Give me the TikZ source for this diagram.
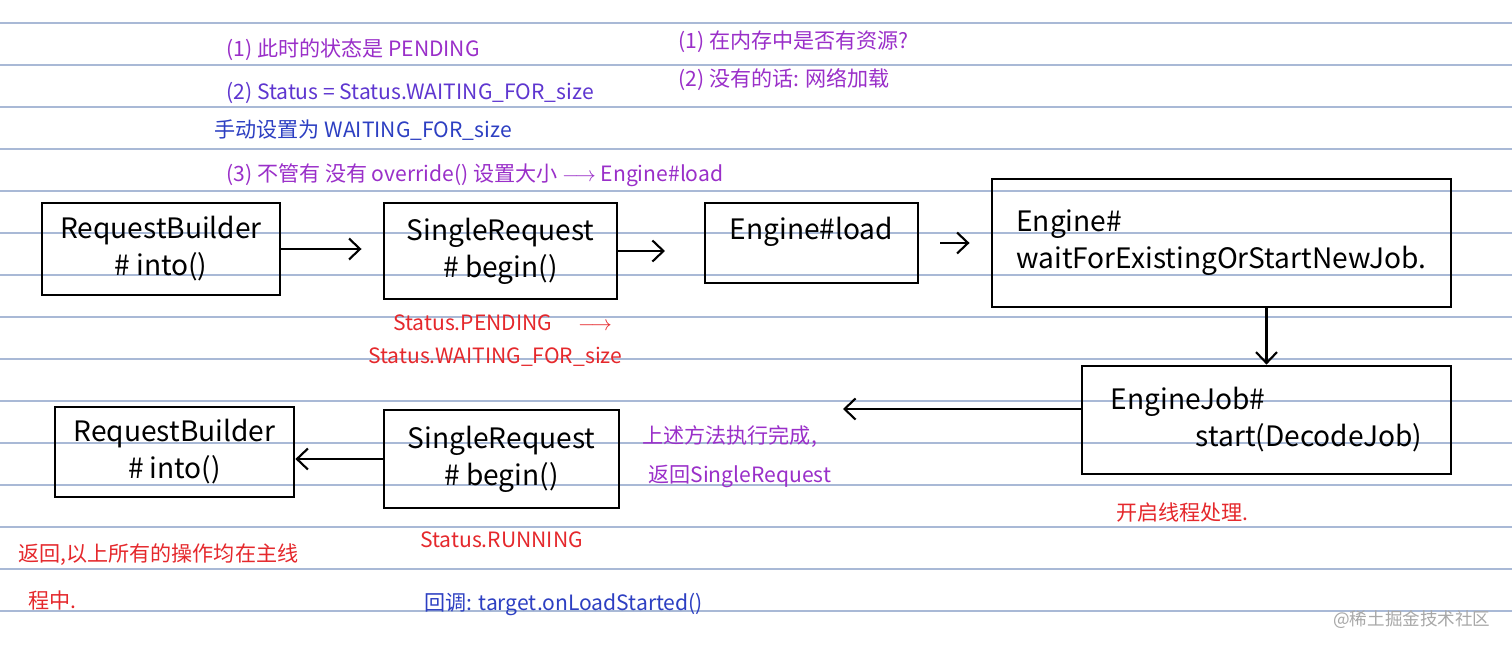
\documentclass[tikz,border=0pt]{standalone}
\usepackage{fontspec}
\setmainfont{Noto Sans CJK SC}
\usetikzlibrary{arrows.meta}

\definecolor{rulecolor}{HTML}{A9B9D6}
\definecolor{penpurple}{HTML}{9A2FC9}
\definecolor{penviolet}{HTML}{5E36D0}
\definecolor{penblue}{HTML}{2D3FC2}
\definecolor{penred}{HTML}{E5282C}
\definecolor{markgray}{HTML}{A8A8A8}

\begin{document}
\begin{tikzpicture}[
  x=0.02cm,
  y=-0.02cm,
  line/.style={draw=black,line width=1.6pt},
  arrow/.style={draw=black,line width=1.2pt,-{Straight Barb[length=2.2mm,width=4.2mm]}},
  box/.style={line,align=center,inner sep=4pt,font=\fontsize{16}{21}\selectfont},
  note/.style={anchor=west,inner sep=0pt,font=\fontsize{12}{14}\selectfont},
  rule/.style={draw=rulecolor,line width=0.6pt}
]

% ---------------------------------------------------------------- paper
\fill[white] (0,0) rectangle (1512,649);
\useasboundingbox (0,0) rectangle (1512,649);
\foreach \k in {0,...,14}{
  \draw[rule] (0,23+42*\k) -- (1512,23+42*\k);
}

% ---------------------------------------------------------------- top row
\node[box,minimum width=4.76cm,minimum height=1.84cm] (rb1) at (161,249)
  {RequestBuilder\\\# into()};
\node[box,minimum width=4.66cm,minimum height=1.92cm] (sr1) at (500.5,251)
  {SingleRequest\\\# begin()};
\node[box,text depth=0.6cm,minimum width=4.26cm,minimum height=1.60cm] (el) at (811.5,243)
  {Engine\#load};
\node[box,align=left,minimum width=9.18cm,minimum height=2.56cm] (wf) at (1221.5,243)
  {Engine\#\\waitForExistingOrStartNewJob.};

% ---------------------------------------------------------------- bottom row
\node[box,align=left,minimum width=7.38cm,minimum height=2.16cm] (ej) at (1266.5,420)
  {EngineJob\#\\\hspace*{1.7cm}start(DecodeJob)};
\node[box,minimum width=4.70cm,minimum height=1.96cm] (sr2) at (501.5,459)
  {SingleRequest\\\# begin()};
\node[box,minimum width=4.78cm,minimum height=1.80cm] (rb2) at (174.5,452)
  {RequestBuilder\\\# into()};

% ---------------------------------------------------------------- connectors
\draw[arrow,shorten >=12] (rb1.east) -- (rb1.east -| sr1.west);
\draw[arrow,shorten >=22] (sr1.east) -- (sr1.east -| el.west);
\draw[arrow,shorten <=12,shorten >=12] (el.east) -- (el.east -| wf.west);
\draw[arrow] (wf.south -| ej.north) -- (ej.north);
\coordinate (back) at (843,409);
\draw[arrow] (back -| ej.west) -- (back);
\draw[arrow] (sr2.west) -- (sr2.west -| rb2.east);

% ---------------------------------------------------------------- notes above
\node[note,text=penpurple] (n1) at (226,50) {(1) 此时的状态是 PENDING};
\node[note,text=penviolet] (n2) at (226,93) {(2) Status = Status.WAITING\_FOR\_size};
\node[note,text=penblue]   (n3) at (214,130) {手动设置为 WAITING\_FOR\_size};
\node[note,text=penpurple] (n4) at (226,175)
  {(3) 不管有 没有 override() 设置大小 $\longrightarrow$ Engine\#load};
\node[note,text=penpurple] (n5) at (678,42) {(1) 在内存中是否有资源?};
\node[note,text=penpurple] (n6) at (678,80) {(2) 没有的话: 网络加载};

% ---------------------------------------------------------------- notes below
\node[note,text=penred] (s1) at (393,323) {Status.PENDING \quad$\longrightarrow$};
\node[note,text=penred] (s2) at (368,357) {Status.WAITING\_FOR\_size};
\node[note,text=penpurple] (p1) at (642,437) {上述方法执行完成,};
\node[note,text=penpurple] (p2) at (648,476) {返回SingleRequest};
\node[note,text=penred] (t1) at (1116,513) {开启线程处理.};
\node[note,text=penred] (s3) at (420,540) {Status.RUNNING};
\node[note,text=penblue] (cb) at (424,605) {回调: target.onLoadStarted()};
\node[note,text=penred] (r1) at (18,555) {返回,以上所有的操作均在主线};
\node[note,text=penred] (r2) at (28,600) {程中.};

% watermark
\node[note,text=markgray,font=\fontsize{10}{12}\selectfont] (wm) at (1333,620) {@稀土掘金技术社区};

\end{tikzpicture}
\end{document}
